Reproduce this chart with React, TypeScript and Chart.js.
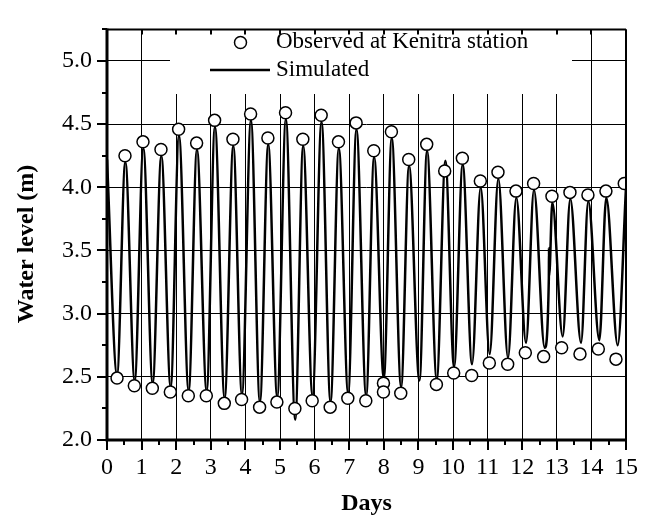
import React, { useEffect, useRef } from "react";
import { Chart, registerables } from "chart.js";

Chart.register(...registerables);

// Observed water level at Kenitra station (days, metres)
const obsDays = [
  0.29, 0.52, 0.79, 1.04, 1.31, 1.56, 1.83, 2.07, 2.35, 2.59, 2.87, 3.11, 3.39, 3.64, 3.89,
  4.15, 4.41, 4.65, 4.91, 5.16, 5.43, 5.66, 5.93, 6.19, 6.45, 6.69, 6.96, 7.2, 7.48, 7.71,
  7.99, 7.99, 8.22, 8.49, 8.72, 9.24, 9.52, 9.76, 10.02, 10.27, 10.54, 10.79, 11.05, 11.3,
  11.58, 11.82, 12.09, 12.33, 12.62, 12.86, 13.14, 13.38, 13.67, 13.9, 14.2, 14.42, 14.71, 14.95,
];
const obsLevels = [
  2.49, 4.25, 2.43, 4.36, 2.41, 4.3, 2.38, 4.46, 2.35, 4.35, 2.35, 4.53, 2.29, 4.38, 2.32,
  4.58, 2.26, 4.39, 2.3, 4.59, 2.25, 4.38, 2.31, 4.57, 2.26, 4.36, 2.33, 4.51, 2.31, 4.29,
  2.45, 2.38, 4.44, 2.37, 4.22, 4.34, 2.44, 4.13, 2.53, 4.23, 2.51, 4.05, 2.61, 4.12,
  2.6, 3.97, 2.69, 4.03, 2.66, 3.93, 2.73, 3.96, 2.68, 3.94, 2.72, 3.97, 2.64, 4.03,
];

// Simulated water level (turning points of the simulated curve)
const simDays = [
  0.0, 0.29, 0.53, 0.8, 1.05, 1.32, 1.57, 1.84, 2.08, 2.36, 2.6, 2.88, 3.12, 3.4, 3.65, 3.9,
  4.16, 4.42, 4.66, 4.92, 5.17, 5.44, 5.67, 5.94, 6.2, 6.46, 6.7, 6.97, 7.21, 7.49, 7.72,
  8.0, 8.23, 8.5, 8.73, 9.03, 9.25, 9.53, 9.78, 10.03, 10.28, 10.55, 10.8, 11.06, 11.31,
  11.59, 11.83, 12.11, 12.34, 12.65, 12.77, 12.775, 12.78, 12.87, 13.17, 13.39, 13.7,
  13.91, 14.23, 14.43, 14.76, 15.0,
];
const simLevels = [
  4.22, 2.52, 4.2, 2.47, 4.31, 2.45, 4.25, 2.42, 4.41, 2.39, 4.3, 2.39, 4.48, 2.33, 4.33, 2.36,
  4.53, 2.3, 4.34, 2.34, 4.54, 2.16, 4.33, 2.35, 4.52, 2.3, 4.31, 2.37, 4.46, 2.35, 4.24,
  2.49, 4.39, 2.42, 4.17, 2.47, 4.29, 2.48, 4.21, 2.58, 4.18, 2.6, 4.0, 2.68, 4.07,
  2.65, 3.92, 2.77, 3.98, 2.73, 3.28, 3.52, 3.3, 3.88, 2.82, 3.91, 2.77,
  3.89, 2.79, 3.92, 2.75, 4.0,
];

const xMin = 0;
const xMax = 15;
const yMin = 2.0;
const yMax = 5.25;

const legendObserved = "Observed at Kenitra station";
const legendSimulated = "Simulated";
const xTitle = "Days";
const yTitle = "Water level (m)";

const FONT = "'Liberation Serif', 'Times New Roman', serif";

const decorPlugin = {
  id: "decor",
  beforeDatasetsDraw(chart: any) {
    const ctx = chart.ctx;
    const { top } = chart.chartArea;
    ctx.save();
    ctx.fillStyle = "#ffffff";
    ctx.fillRect(170, top, 572 - 170, 94 - top);
    ctx.restore();
  },
  afterDraw(chart: any) {
    const ctx = chart.ctx;
    const { left, right, top, bottom } = chart.chartArea;
    const xs = chart.scales.x;
    const ys = chart.scales.y;
    ctx.save();
    ctx.strokeStyle = "#000";
    ctx.lineCap = "butt";

    // x ticks (major outward 10px at integers, minor 5px at halves), top inward ticks
    ctx.lineWidth = 2;
    for (let i = 0; i <= (xMax - xMin) * 2; i++) {
      const v = xMin + i / 2;
      const px = Math.round(xs.getPixelForValue(v));
      const major = i % 2 === 0;
      ctx.beginPath();
      ctx.moveTo(px, bottom);
      ctx.lineTo(px, bottom + (major ? 10 : 5));
      ctx.stroke();
      if (major) {
        ctx.beginPath();
        ctx.moveTo(px, top);
        ctx.lineTo(px, top + 5);
        ctx.stroke();
      }
    }
    // y ticks (major at 0.5, minor at 0.25)
    for (let i = 0; i <= Math.round((yMax - yMin) * 4); i++) {
      const v = yMin + i / 4;
      const py = Math.round(ys.getPixelForValue(v));
      const major = i % 2 === 0;
      ctx.beginPath();
      ctx.moveTo(left, py);
      ctx.lineTo(left - (major ? 10 : 5), py);
      ctx.stroke();
    }

    // frame
    ctx.lineWidth = 2;
    ctx.beginPath();
    ctx.moveTo(left, top);
    ctx.lineTo(right, top);
    ctx.moveTo(right, top);
    ctx.lineTo(right, bottom);
    ctx.stroke();
    ctx.lineWidth = 3;
    ctx.beginPath();
    ctx.moveTo(left, top - 1);
    ctx.lineTo(left, bottom + 1.5);
    ctx.moveTo(left - 1.5, bottom);
    ctx.lineTo(right + 1, bottom);
    ctx.stroke();

    // legend
    ctx.fillStyle = "#000";
    ctx.font = `23px ${FONT}`;
    ctx.textAlign = "left";
    ctx.textBaseline = "middle";
    ctx.fillText(legendObserved, 276, 42);
    ctx.fillText(legendSimulated, 276, 70);
    ctx.lineWidth = 1.5;
    ctx.fillStyle = "#fff";
    ctx.beginPath();
    ctx.arc(240.5, 42.5, 6, 0, Math.PI * 2);
    ctx.fill();
    ctx.stroke();
    ctx.lineWidth = 2.5;
    ctx.beginPath();
    ctx.moveTo(210, 70);
    ctx.lineTo(270, 70);
    ctx.stroke();

    // y title
    ctx.fillStyle = "#000";
    ctx.font = `bold 24px ${FONT}`;
    ctx.translate(27, 244);
    ctx.rotate(-Math.PI / 2);
    ctx.textAlign = "center";
    ctx.textBaseline = "middle";
    ctx.fillText(yTitle, 0, 0);
    ctx.restore();
  },
};

export default function App() {
  const canvasRef = useRef<HTMLCanvasElement | null>(null);

  useEffect(() => {
    const canvas = canvasRef.current;
    if (!canvas) return;
    const chart = new Chart(canvas, {
      type: "line",
      data: {
        datasets: [
          {
            label: legendObserved,
            data: obsDays.map((d, i) => ({ x: d, y: obsLevels[i] })),
            showLine: false,
            pointRadius: 6,
            pointBorderWidth: 1.5,
            pointBackgroundColor: "#ffffff",
            pointBorderColor: "#000000",
            order: 0,
          },
          {
            label: legendSimulated,
            data: simDays.map((d, i) => ({ x: d, y: simLevels[i] })),
            borderColor: "#000000",
            borderWidth: 2.5,
            pointRadius: 0,
            cubicInterpolationMode: "monotone",
            fill: false,
            order: 1,
          },
        ],
      },
      options: {
        animation: false,
        responsive: false,
        devicePixelRatio: 1,
        layout: { padding: { left: 0, right: 24, top: 16, bottom: 0 } },
        plugins: {
          legend: { display: false },
          tooltip: { enabled: false },
        },
        scales: {
          x: {
            type: "linear",
            min: xMin,
            max: xMax,
            border: { display: false },
            grid: {
              drawTicks: false,
              color: (c: any) =>
                c.tick && (c.tick.value === xMin || c.tick.value === xMax) ? "rgba(0,0,0,0)" : "#000",
              lineWidth: 1,
            },
            ticks: {
              stepSize: 1,
              padding: 13,
              color: "#000",
              font: { family: FONT, size: 24 },
              maxRotation: 0,
              autoSkip: false,
            },
            title: {
              display: true,
              text: xTitle,
              color: "#000",
              font: { family: FONT, size: 24, weight: "bold" },
              padding: { top: 3, bottom: 3 },
            },
            afterFit: (s: any) => {
              s.height = 81;
            },
          },
          y: {
            type: "linear",
            min: yMin,
            max: yMax,
            border: { display: false },
            grid: {
              drawTicks: false,
              color: (c: any) => (c.tick && c.tick.value === yMin ? "rgba(0,0,0,0)" : "#000"),
              lineWidth: 1,
            },
            ticks: {
              stepSize: 0.5,
              includeBounds: false,
              padding: 15,
              color: "#000",
              font: { family: FONT, size: 24 },
              callback: (v: any) => Number(v).toFixed(1),
            },
            afterFit: (s: any) => {
              s.width = 107;
            },
          },
        },
      },
      plugins: [decorPlugin],
    } as any);
    return () => chart.destroy();
  }, []);

  return (
    <div style={{ position: "absolute", left: 0, top: 0, width: 651, height: 521, background: "#fff" }}>
      <canvas ref={canvasRef} width={651} height={521} style={{ display: "block" }} />
    </div>
  );
}
